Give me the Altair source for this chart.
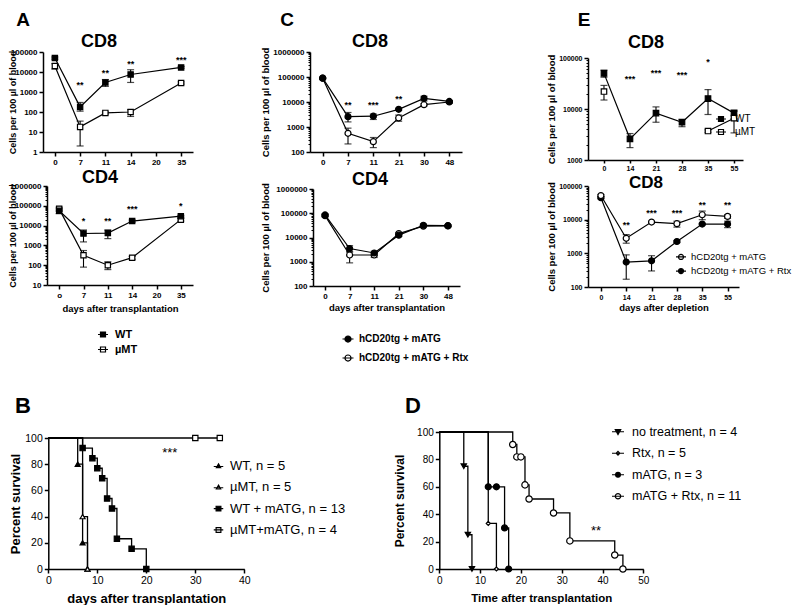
import altair as alt
import pandas as pd

W, H = 776, 597
FONT = "Liberation Sans"


def PX(x):
    return x - 16


def PY(y):
    return y - 8


# ---------------- Panel A : CD8 ----------------
A8_domain = ["0", "7", "11", "14", "20", "35"]
A8_days = ["0", "7", "11", "14", "35"]
A8_wt = [50000, 180, 3000, 7500, 17000]
A8_wt_lo = [44000, 110, 1900, 3000, 15500]
A8_wt_hi = [56000, 300, 4200, 13000, 19000]
A8_mt = [20000, 18, 90, 100, 2800]
A8_mt_lo = [14000, 2, 80, 60, 2500]
A8_mt_hi = [26000, 35, 100, 130, 3200]
A8_star_days = ["7", "11", "14", "35"]
A8_star_text = ["**", "**", "**", "***"]
A8_star_y = [2800, 11000, 32000, 50000]

# ---------------- Panel A : CD4 ----------------
A4_domain = ["o", "7", "11", "14", "20", "35"]
A4_days = ["o", "7", "11", "14", "35"]
A4_wt = [56000, 4000, 4200, 17000, 30000]
A4_wt_lo = [40000, 1500, 2200, 15000, 27000]
A4_wt_hi = [70000, 6000, 6000, 19000, 33000]
A4_mt = [70000, 320, 100, 240, 20000]
A4_mt_lo = [55000, 80, 60, 200, 17000]
A4_mt_hi = [85000, 550, 150, 280, 23000]
A4_star_days = ["7", "11", "14", "35"]
A4_star_text = ["*", "**", "***", "*"]
A4_star_y = [22000, 22000, 89000, 126000]

A_names = ["WT", "µMT"]

# ---------------- Panel C ----------------
C_days = ["0", "7", "11", "21", "30", "48"]
C_names = ["hCD20tg + mATG", "hCD20tg + mATG + Rtx"]
C8_m = [90000, 2600, 2700, 5100, 14000, 10500]
C8_m_lo = [85000, 1600, 2000, 4600, 11000, 9500]
C8_m_hi = [95000, 3800, 3300, 5600, 17000, 11500]
C8_r = [90000, 560, 260, 2300, 7800, 10000]
C8_r_lo = [85000, 210, 150, 1700, 7000, 9000]
C8_r_hi = [95000, 900, 380, 3000, 8600, 11000]
C8_star_days = ["7", "11", "21"]
C8_star_text = ["**", "***", "**"]
C8_star_y = [9100, 9100, 16000]

C4_m = [85000, 3500, 2300, 12500, 32000, 31000]
C4_m_lo = [75000, 2500, 1800, 11000, 28000, 28000]
C4_m_hi = [95000, 4600, 2700, 14000, 36000, 34000]
C4_r = [80000, 1900, 1900, 14500, 29500, 30000]
C4_r_lo = [70000, 900, 1500, 13000, 27000, 28000]
C4_r_hi = [90000, 2600, 2300, 16000, 32000, 32000]

# ---------------- Panel E ----------------
E_days = ["0", "14", "21", "28", "35", "55"]
E1_wt = [50000, 2600, 8300, 5500, 16000, 8300]
E1_wt_lo = [42000, 1750, 5500, 4500, 7800, 6500]
E1_wt_hi = [58000, 3300, 11000, 6300, 24000, 9500]
E1_mt = [22000, None, None, None, 3700, 6600]
E1_mt_lo = [15000, None, None, None, 3500, 3400]
E1_mt_hi = [29000, None, None, None, 3900, 9000]
E1_star_days = ["14", "21", "28", "35"]
E1_star_text = ["***", "***", "***", "*"]
E1_star_y = [42000, 55600, 50800, 91000]

E2_m = [52000, 2800, 8500, 7600, 14000, 12500]
E2_m_lo = [48000, 2000, 8000, 6000, 10000, 11000]
E2_m_hi = [56000, 3600, 9000, 9000, 18000, 14000]
E2_r = [45000, 550, 600, 2250, 7400, 7400]
E2_r_lo = [42000, 170, 300, 2100, 7000, 5800]
E2_r_hi = [48000, 900, 850, 2400, 7800, 9000]
E2_star_days = ["14", "21", "28", "35", "55"]
E2_star_text = ["**", "***", "***", "**", "**"]
E2_star_y = [7900, 18000, 18000, 31000, 31000]

# ---------------- Panel B (survival) ----------------
B_names = ["WT, n = 5", "µMT, n = 5", "WT + mATG, n = 13", "µMT+mATG, n = 4"]
B_t = [[0, 6, 7, 8], [0, 7, 8], [0, 7, 9, 10, 11, 12, 13, 14, 17, 20], [0, 30, 35]]
B_s = [[100, 80, 20, 0], [100, 40, 0],
       [100, 92.3, 84.6, 76.9, 69.2, 53.8, 46.2, 23.1, 15.4, 0], [100, 100, 100]]

# ---------------- Panel D (survival) ----------------
D_names = ["no treatment, n = 4", "Rtx, n = 5", "mATG, n = 3", "mATG + Rtx, n = 11"]
D_t = [[0, 6, 7, 8], [0, 12, 14], [0, 12, 14, 16, 17],
       [0, 18, 19, 20, 21, 22, 28, 32, 43, 45]]
D_s = [[100, 75, 25, 0], [100, 33.3, 0], [100, 60, 60, 30, 0],
       [100, 90.9, 81.8, 81.8, 61.4, 51.1, 40.9, 20.5, 10.2, 0]]

# ---------------- common styling ----------------
AX = dict(domainColor="black", domainWidth=1.5, tickColor="black", tickWidth=1.5,
          tickSize=4, labelColor="black", labelFont=FONT, titleFont=FONT,
          titleColor="black", titleFontWeight="bold", grid=False, labelFlush=False,
          labelOverlap=False, labelPadding=2)


def sq(r):
    return f"M-1,0H1M{-r},{-r}H{r}V{r}H{-r}Z"


def triu(r):
    return f"M-1,0.1H1M0,{-r}L{r},{r * 0.8}H{-r}Z"


def trid(r):
    return f"M-1,0H1M{-r},{-r * 0.8}H{r}L0,{r}Z"


def circ(r):
    return f"M-1,0H1M{r},0A{r},{r},0,1,1,{-r},0A{r},{r},0,1,1,{r},0Z"


def diam(r):
    return f"M-1,0H1M0,{-r}L{r},0L0,{r}L{-r},0Z"


def legend_layer(names, paths, fills, lx, ly, fsize, fweight, wsym, rowpad, loff):
    df = pd.DataFrame({"s": names})
    leg = alt.Legend(orient="none", legendX=PX(lx), legendY=PY(ly), title=None, padding=0,
                     labelFont=FONT, labelFontSize=fsize, labelFontWeight=fweight,
                     labelColor="black", symbolSize=wsym * wsym,
                     symbolStrokeWidth=1.2, symbolOpacity=1, rowPadding=rowpad,
                     labelOffset=loff, labelLimit=400)
    return alt.Chart(df).mark_point(opacity=0).encode(
        shape=alt.Shape("s:N", scale=alt.Scale(domain=names, range=paths), legend=leg),
        fill=alt.Fill("s:N", scale=alt.Scale(domain=names, range=fills), legend=leg),
        stroke=alt.Stroke("s:N", scale=alt.Scale(domain=names, range=["black"] * len(names)),
                          legend=leg),
    )


def log_panel(domain, days, series, star_days, star_text, star_y, ydom, yvals,
              xr, yr, pad, align, ydx, xtitle=None, xdy=0, legend=None, msize=30,
              minor=True, ytsize=9.5, lsize=8, xtick=4, xlpad=2):
    rows = []
    for s in series:
        for i, d in enumerate(days):
            rows.append({"day": d, "i": i, "v": s["v"][i], "lo": s["lo"][i],
                         "hi": s["hi"][i], "s": s["name"]})
    df = pd.DataFrame(rows)
    sdf = pd.DataFrame({"day": star_days, "t": star_text, "y": star_y})
    xs = alt.Scale(type="point", domain=domain, range=[PX(xr[0]), PX(xr[1])],
                   padding=pad, align=align)
    ys = alt.Scale(type="log", domain=ydom, range=[PY(yr[0]), PY(yr[1])], nice=False)
    xkw = dict(AX, orient="bottom", offset=PY(yr[0]) - H, labelAngle=0,
               labelFontSize=lsize, labelFontWeight="bold")
    xkw.update(tickSize=xtick, labelPadding=xlpad)
    if xtitle:
        xkw.update(title=xtitle, titleFontSize=9.5, titleX=PX((xr[0] + xr[1]) / 2),
                   titleY=xdy, titleAlign="center", titleBaseline="middle", titleAngle=0)
    else:
        xkw.update(title=None)
    xa = alt.Axis(**xkw)
    ya = alt.Axis(**AX, orient="left", offset=-PX(xr[0]), values=yvals, format="d",
                  labelFontSize=lsize, labelFontWeight="bold",
                  title="Cells per 100 µl of blood", titleFontSize=ytsize, titleX=-ydx,
                  titleY=PY((yr[0] + yr[1]) / 2), titleAngle=270, titleAlign="center",
                  titleBaseline="middle")
    X = alt.X("day:O", scale=xs, axis=xa)

    def Y(f):
        return alt.Y(f"{f}:Q", scale=ys, axis=ya)

    base = alt.Chart(df)
    layers = [
        base.mark_line(color="black", strokeWidth=1.2,
                       invalid="break-paths-filter-domains").encode(
            x=X, y=Y("v"), detail="s:N", order="i:Q"),
        base.mark_rule(color="black", strokeWidth=1.1).encode(x=X, y=Y("lo"), y2="hi:Q"),
        base.mark_tick(color="black", thickness=1.2, size=7).encode(x=X, y=Y("lo")),
        base.mark_tick(color="black", thickness=1.2, size=7).encode(x=X, y=Y("hi")),
    ]
    for s in series:
        layers.append(
            base.transform_filter(alt.datum.s == s["name"]).mark_point(
                shape=s["shape"], filled=True, fill=s["fill"], stroke="black",
                strokeWidth=1.2, size=msize, opacity=1).encode(x=X, y=Y("v")))
    layers.append(alt.Chart(sdf).mark_text(font=FONT, fontSize=9, fontWeight="bold",
                                           baseline="middle", dy=2, color="black").encode(
        x=X, y=Y("y"), text="t:N"))
    if legend is not None:
        layers.append(legend)
    main = alt.layer(*layers)
    if not minor:
        return main
    minor_vals = []
    d = ydom[0]
    while d < ydom[1]:
        minor_vals += [k * d for k in range(2, 10)]
        d *= 10
    mdf = pd.DataFrame({"m": minor_vals})
    ma = alt.Axis(orient="left", offset=-PX(xr[0]), values=minor_vals, labels=False,
                  domain=False, ticks=True, tickSize=2, tickWidth=1, tickColor="black",
                  grid=False, title=None)
    ys2 = alt.Scale(type="log", domain=ydom, range=[PY(yr[0]), PY(yr[1])], nice=False)
    mlayer = alt.Chart(mdf).mark_tick(opacity=0).encode(
        y=alt.Y("m:Q", scale=ys2, axis=ma))
    return alt.layer(main, mlayer).resolve_scale(y="independent").resolve_axis(
        y="independent")


def km_panel(names, ts, ss, shapes, fills, sizes, xdom, xvals, xr, yr, xtitle, xdy,
             xtsize, ydx, ytsize, lsize, star, legend):
    rows = []
    for n, t, s in zip(names, ts, ss):
        for i, (a, b) in enumerate(zip(t, s)):
            rows.append({"t": a, "p": b, "i": i, "s": n})
    df = pd.DataFrame(rows)
    xs = alt.Scale(domain=xdom, range=[PX(xr[0]), PX(xr[1])], nice=False, zero=False)
    ys = alt.Scale(domain=[0, 100], range=[PY(yr[0]), PY(yr[1])], nice=False)
    xa = alt.Axis(**AX, orient="bottom", offset=PY(yr[0]) - H, values=xvals,
                  labelFontSize=lsize, labelFontWeight="normal", format="d",
                  title=xtitle, titleFontSize=xtsize, titleX=PX((xr[0] + xr[1]) / 2),
                  titleY=xdy, titleAlign="center", titleBaseline="middle", titleAngle=0)
    ya = alt.Axis(**AX, orient="left", offset=-PX(xr[0]), values=[0, 20, 40, 60, 80, 100],
                  labelFontSize=lsize, labelFontWeight="normal", format="d",
                  title="Percent survival", titleFontSize=ytsize, titleX=-ydx,
                  titleY=PY((yr[0] + yr[1]) / 2), titleAngle=270, titleAlign="center",
                  titleBaseline="middle")
    X = alt.X("t:Q", scale=xs, axis=xa)
    Y = alt.Y("p:Q", scale=ys, axis=ya)
    base = alt.Chart(df)
    layers = [base.mark_line(interpolate="step-after", color="black", strokeWidth=1.3).encode(
        x=X, y=Y, detail="s:N", order="i:Q")]
    for n, shp, f, sz in zip(names, shapes, fills, sizes):
        layers.append(
            base.transform_filter((alt.datum.s == n) & (alt.datum.i > 0)).mark_point(
                shape=shp, filled=True, fill=f, stroke="black", strokeWidth=1.2,
                size=sz, opacity=1).encode(x=X, y=Y))
    sdf = pd.DataFrame({"t": [star[0]], "p": [star[1]], "lbl": [star[2]]})
    layers.append(alt.Chart(sdf).mark_text(font=FONT, fontSize=13, baseline="middle", dy=3,
                                           color="black").encode(x=X, y=Y, text="lbl:N"))
    layers.append(legend)
    return alt.layer(*layers)


def label(txt, x, y, size):
    return alt.Chart().mark_text(text=txt, font=FONT, fontSize=size, fontWeight="bold",
                                 align="center", baseline="alphabetic", color="black").encode(
        x=alt.value(PX(x)), y=alt.value(PY(y)))


# ---------------- build panels ----------------
pA8 = log_panel(
    A8_domain, A8_days,
    [dict(name="µMT", v=A8_mt, lo=A8_mt_lo, hi=A8_mt_hi, shape="square", fill="white"),
     dict(name="WT", v=A8_wt, lo=A8_wt_lo, hi=A8_wt_hi, shape="square", fill="black")],
    A8_star_days, A8_star_text, A8_star_y, [1, 100000], [1, 10, 100, 1000, 10000, 100000],
    (43, 193), (152, 52), 0.47, 0.5, 43 - 12.8, msize=28, minor=False, ytsize=9)

pA4 = log_panel(
    A4_domain, A4_days,
    [dict(name="µMT", v=A4_mt, lo=A4_mt_lo, hi=A4_mt_hi, shape="square", fill="white"),
     dict(name="WT", v=A4_wt, lo=A4_wt_lo, hi=A4_wt_hi, shape="square", fill="black")],
    A4_star_days, A4_star_text, A4_star_y, [10, 1000000],
    [10, 100, 1000, 10000, 100000, 1000000],
    (47, 193), (285, 186), 0.5, 0.5, 47 - 12.8, xtitle="days after transplantation", xdy=23,
    legend=legend_layer(A_names, [sq(0.5), sq(0.5)], ["black", "white"], 97, 334 - 5.5,
                        11, "bold", 10, 4, 6), msize=28, ytsize=9)

pC8 = log_panel(
    C_days, C_days,
    [dict(name=C_names[1], v=C8_r, lo=C8_r_lo, hi=C8_r_hi, shape="circle", fill="white"),
     dict(name=C_names[0], v=C8_m, lo=C8_m_lo, hi=C8_m_hi, shape="circle", fill="black")],
    C8_star_days, C8_star_text, C8_star_y, [100, 1000000],
    [100, 1000, 10000, 100000, 1000000],
    (310, 462), (152, 52), 0.5, 0.5, 45, msize=36)

pC4 = log_panel(
    C_days, C_days,
    [dict(name=C_names[1], v=C4_r, lo=C4_r_lo, hi=C4_r_hi, shape="circle", fill="white"),
     dict(name=C_names[0], v=C4_m, lo=C4_m_lo, hi=C4_m_hi, shape="circle", fill="black")],
    [], [], [], [100, 1000000], [100, 1000, 10000, 100000, 1000000],
    (313, 460), (286, 189), 0.49, 0.5, 48, xtitle="days after transplantation", xdy=21,
    legend=legend_layer(C_names, [circ(0.55), circ(0.55)], ["black", "white"], 341.5,
                        338 - 5.5, 10, "bold", 11, 7, 4.5), msize=36)

pE1 = log_panel(
    E_days, E_days,
    [dict(name="WT", v=E1_wt, lo=E1_wt_lo, hi=E1_wt_hi, shape="square", fill="black"),
     dict(name="µMT", v=E1_mt, lo=E1_mt_lo, hi=E1_mt_hi, shape="square", fill="white")],
    E1_star_days, E1_star_text, E1_star_y, [1000, 100000], [1000, 10000, 100000],
    (588, 743), (160, 58), 0.48, 0.64, 36.5,
    legend=legend_layer(A_names, [sq(0.5), sq(0.5)], ["black", "white"], 715, 118 - 5,
                        10, "normal", 10, 2, 8), msize=30, lsize=7, xtick=3, xlpad=1)

pE2 = log_panel(
    E_days, E_days,
    [dict(name=C_names[1], v=E2_r, lo=E2_r_lo, hi=E2_r_hi, shape="circle", fill="black"),
     dict(name=C_names[0], v=E2_m, lo=E2_m_lo, hi=E2_m_hi, shape="circle", fill="white")],
    E2_star_days, E2_star_text, E2_star_y, [100, 100000], [100, 1000, 10000, 100000],
    (588, 739), (287, 186), 0.48, 0.53, 36.5, xtitle="days after depletion", xdy=20.5,
    legend=legend_layer(C_names, [circ(0.5), circ(0.5)], ["white", "black"], 675,
                        255.7 - 4.75, 9.5, "normal", 10, 3.1, 4), msize=36, lsize=7)

pB = km_panel(
    B_names, B_t, B_s, ["triangle-up", "triangle-up", "square", "square"],
    ["black", "white", "black", "white"], [25, 25, 28, 28], [0, 40], [0, 10, 20, 30, 40],
    (48.3, 244.3), (569, 438), "days after transplantation", 29.5, 13, 48.3 - 15, 13, 10.5,
    (24.8, 90.8, "***"),
    legend_layer(B_names, [triu(0.45), triu(0.45), sq(0.5), sq(0.5)],
                 ["black", "white", "black", "white"], 212, 466 - 6.5, 13, "normal",
                 9.5, 7.3, 5))

pD = km_panel(
    D_names, D_t, D_s, ["triangle-down", "diamond", "circle", "circle"],
    ["black", "white", "black", "white"], [28, 16, 36, 40], [0, 50],
    [0, 10, 20, 30, 40, 50],
    (439.3, 643.3), (569, 432), "Time after transplantation", 29, 11.5, 40, 12, 10,
    (38.4, 29.7, "**"),
    legend_layer(D_names, [trid(0.45), diam(0.3), circ(0.4), circ(0.45)],
                 ["black", "white", "black", "white"], 611, 431 - 6.25, 12.5, "normal",
                 12, 7.5, 7))

texts = [
    label("A", 23, 25.5, 19), label("C", 287, 25.5, 19), label("E", 584, 25.5, 19),
    label("B", 23, 413, 22), label("D", 413, 413, 22),
    label("CD8", 99, 47, 18), label("CD4", 100, 183, 18),
    label("CD8", 370, 47, 18), label("CD4", 370, 185, 18),
    label("CD8", 646, 48, 18), label("CD8", 646, 188, 17),
]

chart = alt.layer(pA8, pA4, pC8, pC4, pE1, pE2, pB, pD, *texts).resolve_scale(
    x="independent", y="independent", shape="independent", fill="independent",
    stroke="independent"
).resolve_axis(x="independent", y="independent").resolve_legend(
    shape="independent", fill="independent", stroke="independent"
).properties(
    width=W, height=H, autosize=alt.AutoSizeParams(type="none"),
    padding={"left": 8, "top": 0, "right": 0, "bottom": 0},
).configure_view(stroke=None)

chart.save("out.html", embed_options={"renderer": "svg", "actions": False})
